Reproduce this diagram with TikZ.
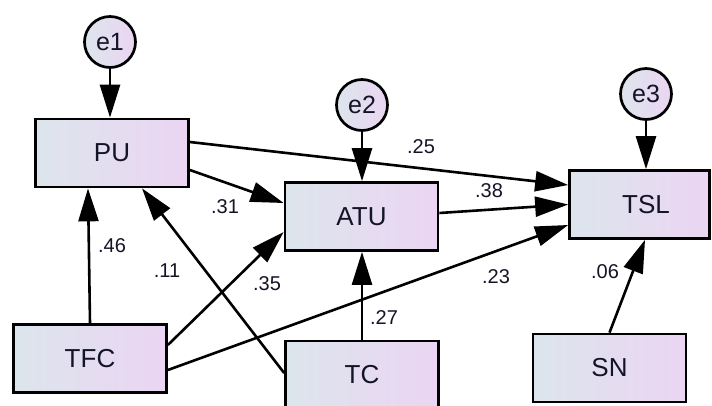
\documentclass[tikz,border=0pt]{standalone}
\usepackage{fontspec}
\setmainfont{Liberation Sans}
\usetikzlibrary{arrows.meta,calc}
\definecolor{fillL}{RGB}{221,229,236}
\definecolor{fillR}{RGB}{235,213,243}
\definecolor{inkc}{RGB}{20,20,40}
\tikzset{
  varbox/.style={draw=black, line width=2.7pt, left color=fillL, right color=fillR,
    minimum width=153pt, minimum height=68pt, inner sep=0pt, text=inkc,
    font=\fontsize{26}{30}\selectfont},
  errc/.style={circle, draw=black, line width=2.7pt, left color=fillL, right color=fillR,
    minimum size=51pt, inner sep=0pt, text=inkc, font=\fontsize{25}{28}\selectfont},
  path/.style={line width=2.6pt, draw=black, -{Triangle[length=33pt,width=20pt]}},
  coef/.style={font=\fontsize{20}{22}\selectfont, text=inkc, inner sep=0pt}
}
\begin{document}
\begin{tikzpicture}[x=1pt,y=-1pt]
\useasboundingbox[fill=white] (0,0) rectangle (712,405);
% variables
\node[varbox] (PU)  at (112,153)   {PU};
\node[varbox] (ATU) at (361.5,216.5) {ATU};
\node[varbox, minimum width=140pt] (TSL) at (639.5,204.5) {\hspace*{13pt}TSL};
\node[varbox] (TFC) at (90,358.5)  {TFC};
\node[varbox] (TC)  at (362,375)   {TC};
\node[varbox] (SN)  at (609.5,368) {SN};
% errors
\node[errc] (e1) at (110,42)  {e1};
\node[errc] (e2) at (362,105) {e2};
\node[errc] (e3) at (646,94)  {e3};
% error paths
\draw[path] (e1.south) -- (e1.south |- PU.north);
\draw[path] (e2.south) -- (e2.south |- ATU.north);
\draw[path] (e3.south) -- (e3.south |- TSL.north);
% structural paths
\draw[path] ([yshift=11pt]PU.east) -- ([yshift=19.5pt]TSL.west);
\draw[path] ([yshift=-17pt]PU.east) -- ([yshift=13.5pt]ATU.west);
\draw[path] ([yshift=3.5pt]ATU.east) -- (TSL.west);
\draw[path] ([yshift=-11.5pt]TFC.east) -- ([yshift=-20.5pt]TSL.west);
\draw[path] ([yshift=13.5pt]TFC.east) -- ([yshift=-15.5pt]ATU.west);
\draw[path] (TFC.north) -- ([xshift=-24pt]PU.south);
\draw[path] ([yshift=2pt]TC.west) -- ([xshift=30pt]PU.south);
\draw[path] (TC.north) -- (TC.north |- ATU.south);
\draw[path] (SN.north) -- ([xshift=5.5pt]TSL.south);
% coefficients
\node[coef] (c25) at (421,147) {.25};
\node[coef] (c31) at (225,207) {.31};
\node[coef] (c38) at (489,191) {.38};
\node[coef] (c46) at (112,246) {.46};
\node[coef] (c11) at (167,271) {.11};
\node[coef] (c35) at (267,284) {.35};
\node[coef] (c23) at (496,277) {.23};
\node[coef] (c27) at (384,318) {.27};
\node[coef] (c06) at (605,272) {.06};
\end{tikzpicture}
\end{document}
